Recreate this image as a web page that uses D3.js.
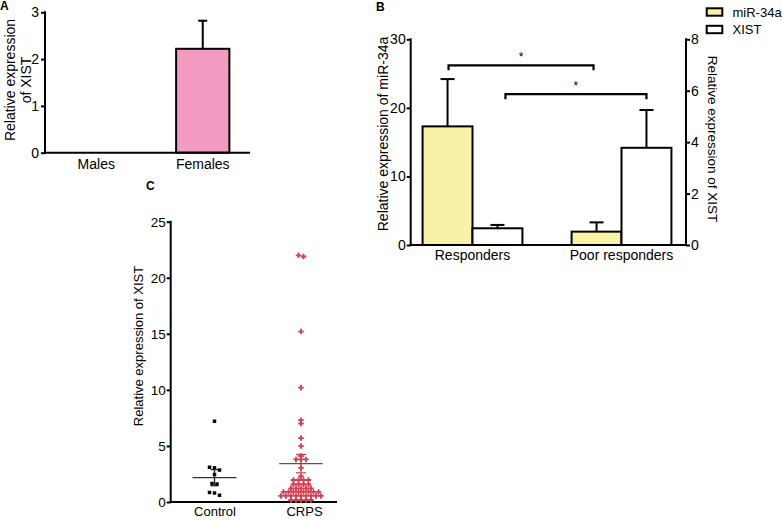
<!DOCTYPE html>
<html><head><meta charset="utf-8">
<script src="https://cdn.jsdelivr.net/npm/d3@7"></script>
<style>
body{margin:0;background:#fff;}
svg{display:block;font-family:"Liberation Sans",Arial,sans-serif;}
</style></head>
<body>
<svg id="chart" width="783" height="521"></svg>
<script>
// ---------- DATA ----------
// Panel A
const aCategories = ["Males", "Females"];
const aValues = [0, 2.22];
const aErrors = [0, 0.60];
const aTicks = [0, 1, 2, 3];
// Panel B
const bCategories = ["Responders", "Poor responders"];
const bSeries = ["miR-34a", "XIST"];
const mirValues = [17.3, 1.95];
const mirErrors = [6.9, 1.35];
const xistValues = [0.65, 3.78];
const xistErrors = [0.13, 1.47];
const bLeftTicks = [0, 10, 20, 30];
const bRightTicks = [0, 2, 4, 6, 8];
const sigLevels = [26.2, 22.0]; // bracket heights on left axis scale
// Panel C
const cCategories = ["Control", "CRPS"];
const controlValues = [7.2, 3.1, 3.05, 2.85, 2.45, 1.65, 1.6, 0.85, 0.8, 0.6];
const crpsValues = [22.0, 21.9, 15.2, 10.2, 7.3, 7.0, 5.7, 5.0, 4.1, 3.8, 3.8, 3.8, 3.05, 2.3,
  1.96, 1.96, 1.96, 1.96,
  1.58, 1.58, 1.58, 1.58,
  1.22, 1.22, 1.22, 1.22, 1.22,
  0.9, 0.9, 0.9, 0.9, 0.9, 0.9, 0.9, 0.9,
  0.54, 0.54, 0.54, 0.54, 0.54, 0.54, 0.54, 0.54, 0.54,
  0.18, 0.18, 0.18, 0.18, 0.18];
const cMeans = [2.17, 3.42];
const cSems = [0.72, 0.82];
const cTicks = [0, 5, 10, 15, 20, 25];

// ---------- STYLE ----------
const svg = d3.select("#chart");
const PINK = "#f39bc1", YELLOW = "#f9f2a6", RED = "#d63f52";
const FS = 14;

function styleAxis(g, fs) {
  g.selectAll(".domain").remove();
  g.selectAll(".tick line").attr("stroke", "#000").attr("stroke-width", 2);
  g.selectAll(".tick text").attr("fill", "#000").style("font-size", fs + "px").style("font-family", '"Liberation Sans",Arial,sans-serif');
}
function hline(g, x1, x2, y, w) {
  g.append("line").attr("x1", x1).attr("x2", x2).attr("y1", y).attr("y2", y).attr("stroke", "#000").attr("stroke-width", w || 2);
}
function vline(g, x, y1, y2, w) {
  g.append("line").attr("x1", x).attr("x2", x).attr("y1", y1).attr("y2", y2).attr("stroke", "#000").attr("stroke-width", w || 2);
}

// ---------- PANEL A ----------
{
  const g = svg.append("g");
  const x = d3.scaleBand().domain(aCategories).range([43, 256]).paddingInner(0.5).paddingOuter(0.25);
  const y = d3.scaleLinear().domain([0, 3]).range([152.7, 12.3]);
  g.append("text").text("A").attr("x", 0).attr("y", 10).attr("font-weight", "bold").style("font-size", "12px");
  const ya = g.append("g").attr("transform", "translate(45,0)").call(d3.axisLeft(y).tickValues(aTicks).tickSize(4).tickPadding(2).tickFormat(d3.format("d")));
  styleAxis(ya, FS);
  vline(g, 45, y(3) - 1, y(0) + 1);
  const data = aCategories.map((c, i) => ({c, v: aValues[i], e: aErrors[i]}));
  data.filter(d => d.v > 0).forEach(d => {
    const cx = x(d.c) + x.bandwidth() / 2;
    vline(g, cx, y(d.v), y(d.v + d.e));
    hline(g, cx - 4.5, cx + 4.5, y(d.v + d.e));
    g.append("rect").attr("x", x(d.c)).attr("width", x.bandwidth()).attr("y", y(d.v)).attr("height", y(0) - y(d.v))
      .attr("fill", PINK).attr("stroke", "#000").attr("stroke-width", 2);
  });
  hline(g, 44, 250, y(0));
  const xa = g.append("g").attr("transform", `translate(0,${y(0)})`).call(d3.axisBottom(x).tickSize(0).tickPadding(6));
  styleAxis(xa, FS);
  const t = g.append("text").attr("transform", `translate(10,80) rotate(-90)`).attr("text-anchor", "middle").style("font-size", FS + "px");
  t.append("tspan").attr("x", 0).attr("dy", "0.35em").text("Relative expression");
  t.append("tspan").attr("x", 0).attr("dy", "1.15em").text("of XIST");
}

// ---------- PANEL B ----------
{
  const g = svg.append("g");
  const x0 = d3.scaleBand().domain(bCategories).range([398, 696]).paddingInner(0.33).paddingOuter(0.165);
  const x1 = d3.scaleBand().domain(bSeries).range([0, x0.bandwidth()]);
  const yL = d3.scaleLinear().domain([0, 30]).range([245, 39.3]);
  const yR = d3.scaleLinear().domain([0, 8]).range([245, 39.3]);
  g.append("text").text("B").attr("x", 376).attr("y", 11).attr("font-weight", "bold").style("font-size", "12px");

  const yla = g.append("g").attr("transform", "translate(410.7,0)").call(d3.axisLeft(yL).tickValues(bLeftTicks).tickSize(4).tickPadding(1));
  styleAxis(yla, FS);
  vline(g, 410.7, yL(30) - 1, yL(0) + 1);
  const yra = g.append("g").attr("transform", "translate(686,0)").call(d3.axisRight(yR).tickValues(bRightTicks).tickSize(4).tickPadding(1));
  styleAxis(yra, FS);
  vline(g, 686, yR(8) - 1, yR(0) + 1);

  const rows = [];
  bCategories.forEach((c, i) => {
    rows.push({c, s: "miR-34a", v: mirValues[i], e: mirErrors[i], y: yL, fill: YELLOW});
    rows.push({c, s: "XIST", v: xistValues[i], e: xistErrors[i], y: yR, fill: "#fff"});
  });
  rows.forEach(d => {
    const bx = x0(d.c) + x1(d.s), bw = x1.bandwidth(), cx = bx + bw / 2;
    vline(g, cx, d.y(d.v), d.y(d.v + d.e));
    hline(g, cx - 7, cx + 7, d.y(d.v + d.e));
    g.append("rect").attr("x", bx).attr("width", bw).attr("y", d.y(d.v)).attr("height", d.y(0) - d.y(d.v))
      .attr("fill", d.fill).attr("stroke", "#000").attr("stroke-width", 2);
  });
  hline(g, 410, 687, yL(0));
  const xa = g.append("g").attr("transform", `translate(0,${yL(0)})`).call(d3.axisBottom(x0).tickSize(0).tickPadding(5));
  styleAxis(xa, FS);

  // significance brackets
  const cxOf = (c, s) => x0(c) + x1(s) + x1.bandwidth() / 2;
  const brackets = [
    {a: cxOf(bCategories[0], "miR-34a") + 1, b: cxOf(bCategories[1], "miR-34a") - 3, lvl: sigLevels[0]},
    {a: cxOf(bCategories[0], "XIST") + 8, b: cxOf(bCategories[1], "XIST"), lvl: sigLevels[1]}
  ];
  brackets.forEach(br => {
    const yy = yL(br.lvl);
    g.append("path").attr("d", `M${br.a},${yy + 5}V${yy}H${br.b}V${yy + 5}`).attr("fill", "none").attr("stroke", "#000").attr("stroke-width", 2.2);
    g.append("text").text("*").attr("x", (br.a + br.b) / 2).attr("y", yy - 4).attr("text-anchor", "middle").style("font-size", "12px");
  });

  // axis titles
  g.append("text").attr("transform", "translate(383,134) rotate(-90)").attr("text-anchor", "middle").attr("dy", "0.35em")
    .style("font-size", FS + "px").text("Relative expression of miR-34a");
  g.append("text").attr("transform", "translate(713,139) rotate(90)").attr("text-anchor", "middle").attr("dy", "0.35em")
    .style("font-size", "13.5px").text("Relative expression of XIST");

  // legend
  const lg = g.append("g");
  [{s: bSeries[0], fill: YELLOW}, {s: bSeries[1], fill: "#fff"}].forEach((d, i) => {
    const yy = 8.3 + i * 17.5;
    lg.append("rect").attr("x", 706.7).attr("y", yy).attr("width", 15.6).attr("height", 7.4).attr("fill", d.fill).attr("stroke", "#000").attr("stroke-width", 2);
    lg.append("text").attr("x", 732.5).attr("y", yy + 4).attr("dy", "0.35em").style("font-size", "13px").text(d.s);
  });
}

// ---------- PANEL C ----------
{
  const g = svg.append("g");
  const x = d3.scalePoint().domain(cCategories).range([214.5, 301]);
  const y = d3.scaleLinear().domain([0, 25]).range([502, 221.7]);
  g.append("text").text("C").attr("x", 146).attr("y", 190).attr("font-weight", "bold").style("font-size", "12px");
  const ya = g.append("g").attr("transform", "translate(170.7,0)").call(d3.axisLeft(y).tickValues(cTicks).tickSize(4).tickPadding(1));
  styleAxis(ya, 13.5);
  vline(g, 170.7, y(25) - 1, y(0) + 1);
  hline(g, 170, 337, y(0));
  const xa = g.append("g").attr("transform", `translate(0,${y(0)})`).call(d3.axisBottom(x).tickSize(0).tickPadding(5));
  styleAxis(xa, 13);
  xa.selectAll(".tick").filter(d => d === "CRPS").select("text").attr("dx", 3);

  g.append("text").attr("transform", "translate(138.5,346) rotate(-90)").attr("text-anchor", "middle").attr("dy", "0.35em")
    .style("font-size", "13px").text("Relative expression of XIST");

  // row-based scatter layout (points of a similar value share a row)
  function rowsLayout(values, cx, step, tol) {
    const sorted = values.slice().sort((a, b) => b - a);
    const rows = [];
    sorted.forEach(v => {
      const last = rows[rows.length - 1];
      if (last && Math.abs(last[0] - v) <= tol) last.push(v); else rows.push([v]);
    });
    const pts = [];
    rows.forEach(r => r.forEach((v, j) => pts.push({x: cx + (j - (r.length - 1) / 2) * step, y: y(v), v})));
    return pts;
  }
  const groups = [
    {c: cCategories[0], vals: controlValues, tol: 0.27, col: "#000", sym: d3.symbolSquare, size: 12, half: 22, cap: 4, lc: "#333", ec: "#222"},
    {c: cCategories[1], vals: crpsValues, tol: 0.12, col: RED, sym: d3.symbolCross, size: 17, half: 21.7, cap: 5, lc: "#555", ec: RED}
  ];
  groups.forEach((gr, i) => {
    const cx = x(gr.c);
    const pts = rowsLayout(gr.vals, cx, 5, gr.tol);
    g.selectAll(null).data(pts).enter().append("path")
      .attr("transform", d => `translate(${d.x},${d.y})`)
      .attr("d", d3.symbol().type(gr.sym).size(gr.size)).attr("fill", gr.col);
    const m = cMeans[i], s = cSems[i];
    g.append("line").attr("x1", cx).attr("x2", cx).attr("y1", y(m + s)).attr("y2", y(m - s)).attr("stroke", gr.ec).attr("stroke-width", 1.3);
    [m + s, m - s].forEach(v => g.append("line").attr("x1", cx - gr.cap).attr("x2", cx + gr.cap).attr("y1", y(v)).attr("y2", y(v)).attr("stroke", gr.ec).attr("stroke-width", 1.3));
    g.append("line").attr("x1", cx - gr.half).attr("x2", cx + gr.half).attr("y1", y(m)).attr("y2", y(m)).attr("stroke", gr.lc).attr("stroke-width", 1.4);
  });
}
</script>
</body></html>
